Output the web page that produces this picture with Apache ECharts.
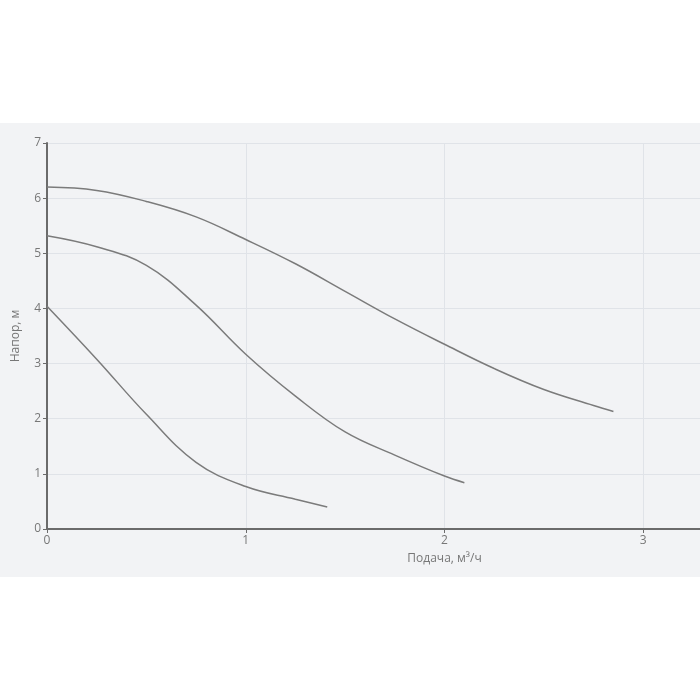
<!DOCTYPE html>
<html>
<head>
<meta charset="utf-8">
<script src="https://cdn.jsdelivr.net/npm/echarts@6/dist/echarts.min.js"></script>
<style>
html,body{margin:0;padding:0;background:#fff;width:700px;height:700px;overflow:hidden;}
#bg{position:absolute;left:0;top:123px;width:700px;height:454px;background:#f2f3f5;overflow:hidden;}
#c{position:absolute;left:0;top:0;width:842px;height:454px;}
</style>
</head>
<body>
<div id="bg"><div id="c"></div></div>
<script>
// Flow (m³/h) and head (m) for the three speed curves
const curve1 = [[0,6.20],[0.25,6.14],[0.5,5.94],[0.75,5.66],[1.0,5.25],[1.25,4.81],[1.5,4.31],[1.75,3.81],[2.0,3.35],[2.25,2.91],[2.5,2.53],[2.75,2.24],[2.85,2.13]];
const curve2 = [[0,5.32],[0.25,5.12],[0.5,4.78],[0.75,4.06],[1.0,3.17],[1.25,2.41],[1.5,1.76],[1.75,1.34],[2.0,0.96],[2.10,0.84]];
const curve3 = [[0,4.04],[0.25,3.08],[0.5,2.08],[0.75,1.21],[1.0,0.77],[1.25,0.54],[1.41,0.40]];
const xName = 'Подача, м³/ч';
const yName = 'Напор, м';

const chart = echarts.init(document.getElementById('c'), null, {renderer:'canvas'});
const font = '"Open Sans", "Noto Sans", sans-serif';
const lineStyle = {color:'#7b7b7b', width:1.5};
function mk(d){return {type:'line', data:d, smooth:0.4, showSymbol:false, symbol:'none', lineStyle:lineStyle, silent:true};}
chart.setOption({
  animation:false,
  backgroundColor:'transparent',
  grid:{left:47, right:0, top:20, bottom:48, containLabel:false, outerBoundsMode:'none'},
  xAxis:{
    type:'value', min:0, max:4, interval:1,
    name:xName, nameLocation:'middle', nameGap:24,
    nameTextStyle:{color:'#777', fontSize:12, fontFamily:font},
    axisLine:{show:true, lineStyle:{color:'#6b6b6b', width:2}},
    axisTick:{show:true, length:4, lineStyle:{color:'#6b6b6b'}},
    axisLabel:{color:'#777', fontSize:12, fontFamily:font, margin:6},
    splitLine:{show:true, lineStyle:{color:'#e0e3e8', width:1}}
  },
  yAxis:{
    type:'value', min:0, max:7, interval:1,
    name:yName, nameLocation:'middle', nameGap:25, nameRotate:90,
    nameTextStyle:{color:'#777', fontSize:12, fontFamily:font},
    axisLine:{show:true, lineStyle:{color:'#6b6b6b', width:2}},
    axisTick:{show:true, length:4, lineStyle:{color:'#6b6b6b'}},
    axisLabel:{color:'#777', fontSize:12, fontFamily:font, margin:6},
    splitLine:{show:true, lineStyle:{color:'#e0e3e8', width:1}}
  },
  series:[mk(curve1), mk(curve2), mk(curve3)]
});
</script>
</body>
</html>
